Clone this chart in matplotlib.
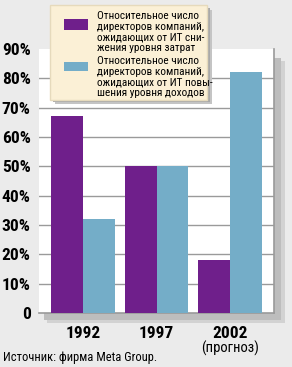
import matplotlib
matplotlib.use("Agg")
import matplotlib.pyplot as plt
import numpy as np
from matplotlib.patches import Rectangle
from matplotlib import font_manager

years = ["1992", "1997", "2002"]
cost_cut = [67, 50, 18]
revenue_up = [32, 50, 82]
y_ticks = [0, 10, 20, 30, 40, 50, 60, 70, 80, 90]
y_labels = ["0", "10%", "20%", "30%", "40%", "50%", "60%", "70%", "80%", "90%"]
label_cost = "Относительное число\nдиректоров компаний,\nожидающих от ИТ сни-\nжения уровня затрат"
label_rev = "Относительное число\nдиректоров компаний,\nожидающих от ИТ повы-\nшения уровня доходов"
source = "Источник: фирма Meta Group."
forecast = "(прогноз)"

# pick a narrow font if one is installed
names = [f.name for f in font_manager.fontManager.ttflist]
narrow = None
for cand in ["Liberation Sans Narrow", "Arial Narrow", "Roboto Condensed",
             "DejaVu Sans Condensed", "Open Sans Condensed", "Noto Sans Condensed"]:
    if cand in names:
        narrow = cand
        break
if narrow is None:
    for f in font_manager.fontManager.ttflist:
        if ("Narrow" in f.name or "Condensed" in f.name):
            narrow = f.name
            break
if narrow is None:
    for f in font_manager.fontManager.ttflist:
        st = f.stretch
        if st in ("condensed", "semi-condensed", "extra-condensed", "ultra-condensed") or (isinstance(st, int) and st < 500):
            narrow = f.name
            break
IS_NARROW = narrow is not None
FAM = [narrow, "Liberation Sans", "DejaVu Sans"] if IS_NARROW else ["Liberation Sans", "DejaVu Sans"]
k = 1.0 if IS_NARROW else 0.86

PURPLE = "#6f1f8b"
BLUE = "#74adc8"

W, H = 292, 367
fig = plt.figure(figsize=(W / 100, H / 100), dpi=100, facecolor="#ebebeb")

def fx(px):
    return px / W

def fy(py):
    return 1 - py / H

def frect(x0, y0, x1, y1, **kw):
    # rectangle given in pixel coords from top-left
    fig.add_artist(Rectangle((fx(x0), fy(y1)), (x1 - x0) / W, (y1 - y0) / H,
                             transform=fig.transFigure, **kw))

# plot area in pixels
L, R, T, B = 39, 274, 49, 313
# plot shadow
frect(L + 8, T + 12, R + 11, B + 10, facecolor="#d2d2d2", edgecolor="none", zorder=0)
frect(L + 5, T + 9, R + 7, B + 7, facecolor="#bdbdbd", edgecolor="none", zorder=0)

ax = fig.add_axes([fx(L), fy(B), (R - L) / W, (B - T) / H])
ax.set_facecolor("white")
x = np.arange(len(years))
w = 0.435
ax.bar(x - w / 2, cost_cut, width=w, color=PURPLE, zorder=3, label=label_cost)
ax.bar(x + w / 2, revenue_up, width=w, color=BLUE, zorder=3, label=label_rev)
ax.set_xlim(-0.6, 2.6)
ax.set_ylim(0, 90)
ax.set_yticks(y_ticks)
ax.set_yticklabels(y_labels, family=FAM, stretch="condensed", fontweight="bold", fontsize=12.5 * k)
ax.set_xticks(x)
ax.set_xticklabels(years, family=FAM, stretch="condensed", fontweight="bold", fontsize=12.5 * k)
ax.tick_params(axis="y", length=0, pad=6)
ax.tick_params(axis="x", length=0, pad=9)
for v in y_ticks[1:-1]:
    ax.axhline(v, color="#9a9a9a", linewidth=1.0, zorder=1)
for s in ["top", "left"]:
    ax.spines[s].set_visible(False)
ax.spines["right"].set_color("#9a9a9a")
ax.spines["bottom"].set_color("#9a9a9a")
ax.spines["right"].set_linewidth(1.2)
ax.spines["bottom"].set_linewidth(1.2)

ax.text(2, -12, forecast, ha="center", va="center", family=FAM, stretch="condensed",
        fontsize=10.5 * k, transform=ax.transData, clip_on=False)
fig.text(fx(3), fy(357), source, ha="left", va="center", family=FAM, stretch="condensed",
         fontsize=9 * k)

# legend box (manual, to match the original placement)
LX0, LY0, LX1, LY1 = 50, 5, 207, 100
frect(LX0 + 5, LY0 + 5, LX1 + 5, LY1 + 4, facecolor="#c4c4c4", edgecolor="none", zorder=20)
frect(LX0 + 3, LY0 + 3, LX1 + 3, LY1 + 2, facecolor="#a9a9a9", edgecolor="none", zorder=20)
frect(LX0, LY0, LX1, LY1, facecolor="#fbf0d6", edgecolor="#e6dabc", linewidth=1.0, zorder=21)
fs = 8.1 if IS_NARROW else 7.0
for lab, col, (py0, py1), ty in [(label_cost, PURPLE, (19, 30), 11),
                                 (label_rev, BLUE, (62, 71), 56)]:
    frect(64, py0, 88, py1, facecolor=col, edgecolor="none", zorder=22)
    fig.text(fx(97), fy(ty), lab, ha="left", va="top", family=FAM, stretch="condensed",
             fontsize=fs, linespacing=1.08, zorder=23)

fig.savefig("out.png", dpi=100, facecolor=fig.get_facecolor())
